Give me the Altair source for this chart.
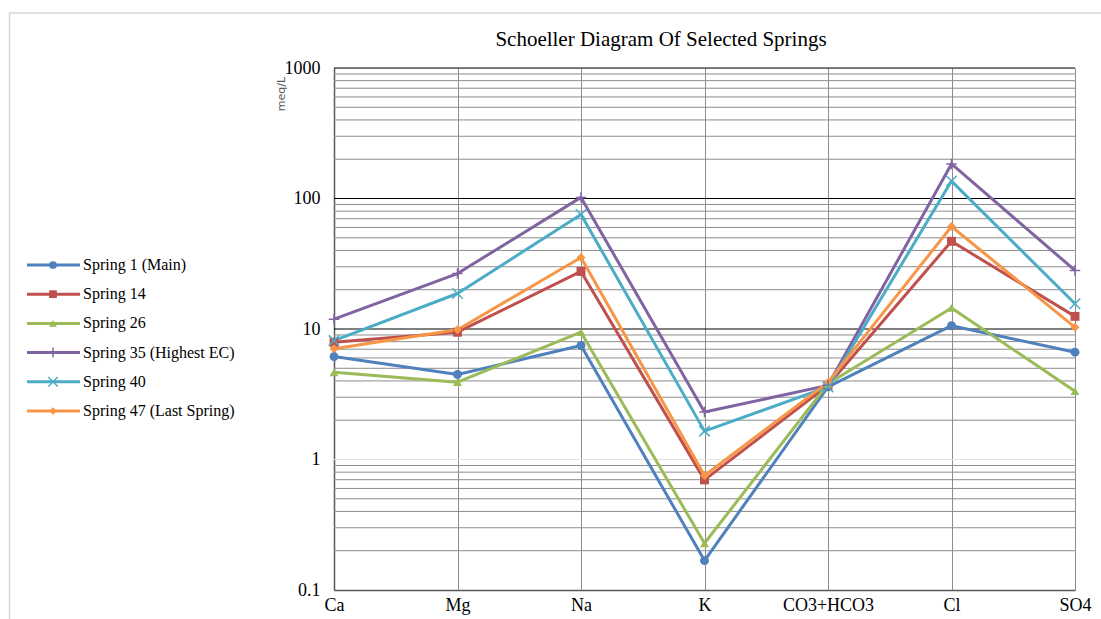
import altair as alt
import pandas as pd

# Ion concentrations (meq/L) for each spring
categories = ["Ca", "Mg", "Na", "K", "CO3+HCO3", "Cl", "SO4"]
series_names = [
    "Spring 1 (Main)",
    "Spring 14",
    "Spring 26",
    "Spring 35 (Highest EC)",
    "Spring 40",
    "Spring 47 (Last Spring)",
]
spring_1 = [6.15, 4.48, 7.47, 0.168, 3.6, 10.6, 6.64]
spring_14 = [7.9, 9.45, 27.6, 0.698, 3.7, 47, 12.5]
spring_26 = [4.66, 3.91, 9.45, 0.228, 3.8, 14.5, 3.34]
spring_35 = [11.9, 26.6, 102, 2.31, 3.7, 184, 28.1]
spring_40 = [8.15, 18.7, 75.4, 1.65, 3.6, 136, 15.6]
spring_47 = [7.05, 9.86, 35.3, 0.754, 3.9, 61, 10.3]
all_series = [spring_1, spring_14, spring_26, spring_35, spring_40, spring_47]

colors = ["#4F81BD", "#C0504D", "#9BBB59", "#8064A2", "#4BACC6", "#F79646"]
shapes = [
    "circle",
    "square",
    "triangle-up",
    "M-1,0L1,0M0,-1L0,1",
    "M-1,-1L1,1M-1,1L1,-1",
    "diamond",
]
filled_series = [series_names[i] for i in (0, 1, 2, 5)]
stroked_series = [series_names[i] for i in (3, 4)]

y_ticks = [0.1, 1, 10, 100, 1000]
major_grid = [1000, 100, 10, 1]
minor_grid = [m * d for d in (0.1, 1, 10, 100) for m in range(2, 10)]

rows = []
for name, vals in zip(series_names, all_series):
    for cat, v in zip(categories, vals):
        rows.append({"series": name, "ion": cat, "value": v, "order": series_names.index(name)})
df = pd.DataFrame(rows)
legend_df = pd.DataFrame({"series": series_names})

W, H = 741, 522
SERIF = "Liberation Serif"

color_scale = alt.Scale(domain=series_names, range=colors)
shape_scale = alt.Scale(domain=series_names, range=shapes)
y_scale = alt.Scale(type="log", domain=[0.1, 1000], nice=False)
y_axis = alt.Axis(
    title=None, values=y_ticks, grid=False, ticks=False,
    labelExpr="datum.value >= 1 ? format(datum.value, 'd') : format(datum.value, '.1f')",
    labelFont=SERIF, labelFontSize=18, labelColor="#000000", labelPadding=14,
    domainColor="#595959", domainWidth=1.5,
)
x_axis = alt.Axis(
    title=None, labelAngle=0, labelFont=SERIF, labelFontSize=18, labelColor="#000000",
    labelPadding=6, ticks=False, grid=True, gridColor="#8C8C8C", gridWidth=1,
    domainColor="#595959", domainWidth=1.5,
)
x_scale = alt.Scale(type="point", padding=0, domain=categories)


def y_enc(field):
    return alt.Y(field, scale=y_scale, axis=y_axis)


def x_enc():
    return alt.X("ion:N", sort=categories, scale=x_scale, axis=x_axis)


minor = alt.Chart(pd.DataFrame({"value": minor_grid})).mark_rule(color="#8C8C8C", strokeWidth=1).encode(
    y=y_enc("value:Q"), x=alt.value(0), x2=alt.value(W)
)
major = alt.Chart(pd.DataFrame({"value": major_grid})).mark_rule(strokeWidth=1).encode(
    y=y_enc("value:Q"), x=alt.value(0), x2=alt.value(W),
    color=alt.condition("datum.value == 1", alt.value("#E4E4E4"), alt.value("#000000")),
)

base = alt.Chart(df)
lines = base.mark_line(strokeWidth=3, strokeJoin="round").encode(
    x=x_enc(),
    y=y_enc("value:Q"),
    color=alt.Color("series:N", scale=color_scale, legend=None),
    detail="series:N",
    order="order:Q",
)
pts_filled = base.transform_filter(
    alt.FieldOneOfPredicate(field="series", oneOf=filled_series)
).mark_point(filled=True, opacity=1, size=80).encode(
    x=x_enc(), y=y_enc("value:Q"),
    color=alt.Color("series:N", scale=color_scale, legend=None),
    shape=alt.Shape("series:N", scale=shape_scale, legend=None),
)
pts_stroked = base.transform_filter(
    alt.FieldOneOfPredicate(field="series", oneOf=stroked_series)
).mark_point(filled=False, opacity=1, size=110, strokeWidth=1.5).encode(
    x=x_enc(), y=y_enc("value:Q"),
    color=alt.Color("series:N", scale=color_scale, legend=None),
    shape=alt.Shape("series:N", scale=shape_scale, legend=None),
)
plot = alt.layer(minor, major, lines, pts_filled, pts_stroked)

# Legend drawn at the left of the plot
leg_y = alt.Y("series:N", sort=series_names,
              scale=alt.Scale(type="point", domain=series_names, range=[197, 343], padding=0),
              axis=None)
leg = alt.Chart(legend_df)
leg_line = leg.mark_rule(strokeWidth=3).encode(
    y=leg_y, x=alt.value(-307), x2=alt.value(-254),
    color=alt.Color("series:N", scale=color_scale, legend=None),
)
leg_filled = leg.transform_filter(
    alt.FieldOneOfPredicate(field="series", oneOf=filled_series)
).mark_point(filled=True, opacity=1, size=60).encode(
    y=leg_y, x=alt.value(-281),
    color=alt.Color("series:N", scale=color_scale, legend=None),
    shape=alt.Shape("series:N", scale=shape_scale, legend=None),
)
leg_stroked = leg.transform_filter(
    alt.FieldOneOfPredicate(field="series", oneOf=stroked_series)
).mark_point(filled=False, opacity=1, size=90, strokeWidth=1.5).encode(
    y=leg_y, x=alt.value(-281),
    color=alt.Color("series:N", scale=color_scale, legend=None),
    shape=alt.Shape("series:N", scale=shape_scale, legend=None),
)
leg_text = leg.mark_text(align="left", baseline="middle", font=SERIF, fontSize=16, color="#000000").encode(
    y=leg_y, x=alt.value(-251), text="series:N"
)
legend = alt.layer(leg_line, leg_filled, leg_stroked, leg_text)

one = alt.Data(values=[{}])
border = alt.Chart(one).mark_rect(fill=None, stroke="#D9D9D9", strokeWidth=1.5).encode(
    x=alt.value(-324.5), x2=alt.value(W + 40), y=alt.value(-55), y2=alt.value(H + 40)
)
title = alt.Chart(one).mark_text(
    text="Schoeller Diagram  Of Selected Springs", font=SERIF, fontSize=21,
    align="center", baseline="alphabetic", color="#000000",
).encode(x=alt.value(327), y=alt.value(-22))
y_title = alt.Chart(one).mark_text(
    text="meq/L", font="DejaVu Sans", fontSize=11, angle=270,
    align="center", baseline="middle", color="#595959",
).encode(x=alt.value(-52), y=alt.value(26))
extras = alt.layer(border, title, y_title)

chart = alt.layer(plot, legend, extras).resolve_scale(y="independent").properties(
    width=W, height=H,
    autosize=alt.AutoSizeParams(type="none"),
    padding={"left": 334, "top": 68, "right": 26, "bottom": 29},
).configure_view(stroke=None).configure(background="#FFFFFF")

chart.save("out.html", embed_options={"renderer": "svg", "actions": False})
